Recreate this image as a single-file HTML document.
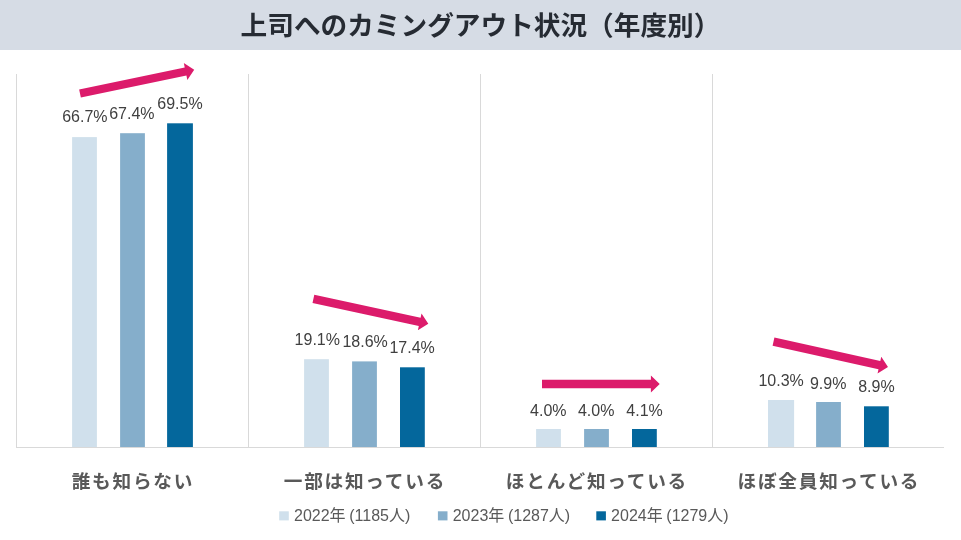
<!DOCTYPE html>
<html lang="ja">
<head>
<meta charset="utf-8">
<title>上司へのカミングアウト状況（年度別）</title>
<style>
html,body{margin:0;padding:0;background:#fff;}
body{width:961px;height:540px;overflow:hidden;position:relative;}
svg{position:absolute;left:0;top:0;display:block;}
text{font-family:"Liberation Sans","Noto Sans CJK JP",sans-serif;}
.title{font-size:26.67px;font-weight:700;fill:#262B33;}
.cat{font-size:18.67px;font-weight:700;fill:#595959;letter-spacing:1.75px;}
.val{font-size:16px;fill:#404040;}
.leg{font-size:16px;fill:#595959;word-spacing:-0.8px;}
</style>
</head>
<body>
<svg width="961" height="540" viewBox="0 0 961 540">
<rect x="0" y="0" width="961" height="540" fill="#FFFFFF"/>
<rect x="0" y="0" width="961" height="50" fill="#D6DCE5"/>
<text class="title" x="480.5" y="35" text-anchor="middle">上司へのカミングアウト状況（年度別）</text>

<g stroke="#D9D9D9" stroke-width="1" fill="none">
<line x1="16.5" y1="74.0" x2="16.5" y2="447.0"/>
<line x1="248.5" y1="74.0" x2="248.5" y2="447.0"/>
<line x1="480.5" y1="74.0" x2="480.5" y2="447.0"/>
<line x1="712.5" y1="74.0" x2="712.5" y2="447.0"/>
<line x1="16" y1="447.5" x2="944" y2="447.5"/>
</g>
<rect x="72.1" y="137.1" width="24.8" height="309.9" fill="#D0E0EC"/>
<rect x="120.1" y="133.2" width="24.8" height="313.8" fill="#85AECB"/>
<rect x="167.1" y="123.3" width="25.8" height="323.7" fill="#04679C"/>
<rect x="304.1" y="359.2" width="24.8" height="87.8" fill="#D0E0EC"/>
<rect x="352.1" y="361.4" width="24.8" height="85.6" fill="#85AECB"/>
<rect x="400.0" y="367.3" width="24.8" height="79.7" fill="#04679C"/>
<rect x="536.1" y="429.0" width="24.8" height="18.0" fill="#D0E0EC"/>
<rect x="584.1" y="429.0" width="24.8" height="18.0" fill="#85AECB"/>
<rect x="632.0" y="429.0" width="24.8" height="18.0" fill="#04679C"/>
<rect x="768.0" y="400.0" width="26.1" height="47.0" fill="#D0E0EC"/>
<rect x="816.1" y="402.0" width="24.8" height="45.0" fill="#85AECB"/>
<rect x="864.0" y="406.3" width="24.8" height="40.7" fill="#04679C"/>
<text class="val" x="84.9" y="121.8" text-anchor="middle">66.7%</text>
<text class="val" x="131.9" y="118.8" text-anchor="middle">67.4%</text>
<text class="val" x="180.0" y="109.2" text-anchor="middle">69.5%</text>
<text class="val" x="317.3" y="345.2" text-anchor="middle">19.1%</text>
<text class="val" x="365.1" y="347.2" text-anchor="middle">18.6%</text>
<text class="val" x="412.1" y="353.0" text-anchor="middle">17.4%</text>
<text class="val" x="548.3" y="415.5" text-anchor="middle">4.0%</text>
<text class="val" x="596.2" y="415.5" text-anchor="middle">4.0%</text>
<text class="val" x="644.6" y="415.5" text-anchor="middle">4.1%</text>
<text class="val" x="781.1" y="386.3" text-anchor="middle">10.3%</text>
<text class="val" x="828.2" y="388.5" text-anchor="middle">9.9%</text>
<text class="val" x="876.4" y="392.2" text-anchor="middle">8.9%</text>
<text class="cat" x="132.9" y="487.8" text-anchor="middle">誰も知らない</text>
<text class="cat" x="364.9" y="487.8" text-anchor="middle">一部は知っている</text>
<text class="cat" x="596.9" y="487.8" text-anchor="middle">ほとんど知っている</text>
<text class="cat" x="828.9" y="487.8" text-anchor="middle">ほぼ全員知っている</text>
<rect x="279.2" y="511.3" width="9.6" height="9.1" fill="#D0E0EC"/>
<text class="leg" x="294.0" y="520.7">2022年 (1185人)</text>
<rect x="437.9" y="511.3" width="9.6" height="9.1" fill="#85AECB"/>
<text class="leg" x="452.7" y="520.7">2023年 (1287人)</text>
<rect x="596.3" y="511.3" width="9.6" height="9.1" fill="#04679C"/>
<text class="leg" x="611.0999999999999" y="520.7">2024年 (1279人)</text>
<polygon transform="translate(80.00 93.50) rotate(-11.772)" points="0.00,-4.20 107.85,-4.20 107.85,-8.60 116.65,0.00 107.85,8.60 107.85,4.20 0.00,4.20" fill="#DC1B6B"/>
<polygon transform="translate(313.40 298.80) rotate(12.228)" points="0.00,-4.20 108.77,-4.20 108.77,-8.60 117.57,0.00 108.77,8.60 108.77,4.20 0.00,4.20" fill="#DC1B6B"/>
<polygon transform="translate(542.00 384.00) rotate(0.000)" points="0.00,-4.20 108.90,-4.20 108.90,-8.60 117.70,0.00 108.90,8.60 108.90,4.20 0.00,4.20" fill="#DC1B6B"/>
<polygon transform="translate(773.50 341.70) rotate(12.508)" points="0.00,-4.20 108.48,-4.20 108.48,-8.60 117.28,0.00 108.48,8.60 108.48,4.20 0.00,4.20" fill="#DC1B6B"/>
</svg>
</body>
</html>
